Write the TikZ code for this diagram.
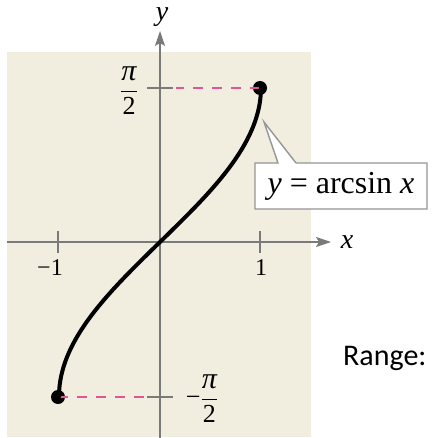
\documentclass[tikz,border=0pt]{standalone}
\usepackage{amsmath}
\usepackage{fontspec}
\setmainfont{Liberation Serif}
\newfontfamily\calib{Carlito}
\usetikzlibrary{arrows.meta}
\definecolor{bgbeige}{HTML}{F1EEE0}
\definecolor{axisgray}{HTML}{7A7A7A}
\definecolor{dashpink}{HTML}{E0559A}
\newcommand{\halfpi}{$\genfrac{}{}{1.6pt}{0}{\mbox{\fontsize{30}{30}\selectfont\itshape π}}{\mbox{2}}$}
\tikzset{
  axis/.style={draw=axisgray, line width=1.3pt},
  tickmark/.style={draw=axisgray, line width=1.1pt},
  guide/.style={draw=dashpink, line width=1.3pt, dash pattern=on 10pt off 9pt},
  curve/.style={draw=black, line width=4pt},
  enddot/.style={circle, fill=black, inner sep=0pt, minimum size=14pt},
  lbl/.style={inner sep=0pt, font=\fontsize{24}{26}\selectfont},
  fraclbl/.style={inner sep=0pt, font=\fontsize{26}{28}\selectfont},
  axlbl/.style={inner sep=0pt, font=\fontsize{28}{30}\selectfont\itshape},
  callout/.style={draw=axisgray!80, line width=1.4pt, fill=white},
}
\begin{document}
\begin{tikzpicture}[x=1pt,y=-1pt]
\useasboundingbox (0,0) rectangle (433,438);
% background panel
\fill[bgbeige] (7,52) rectangle (311,437);
% axes
\coordinate (xs) at (7,242);
\coordinate (xe) at (331,242);
\coordinate (ys) at (160,438);
\coordinate (ye) at (160,31);
\draw[axis,-{Stealth[length=15pt,width=10pt,inset=3pt]}] (xs) -- (xe);
\draw[axis,-{Stealth[length=15pt,width=10pt,inset=3pt]}] (ys) -- (ye);
\node[axlbl] (xlab) at (347,242) {x};
\node[axlbl] (ylab) at (162,17) {y};
% ticks
\draw[tickmark] (58,231) -- (58,253);
\draw[tickmark] (260,231) -- (260,253);
\draw[tickmark] (147,88) -- (173,88);
\draw[tickmark] (147,397) -- (173,397);
\node[lbl] (tm1) at (50,268) {−1};
\node[lbl] (tp1) at (261,268) {1};
\node[fraclbl] (lpi) at (129,91) {\halfpi};
\node[fraclbl] (lmpi) at (202,399) {−\halfpi};
% end points
\node[enddot] (top) at (260,88) {};
\node[enddot] (bot) at (58,397) {};
% dashed guides
\draw[guide] (top.center) -- (176,88);
\draw[guide] (bot.center) -- (145,397);
% curve y = arcsin x
\draw[curve, line cap=round] plot[domain=-90:90, samples=120, variable=\t]
  ({160+101*sin(\t)}, {242-154.5*\t/90});
% callout
\coordinate (tip) at (264,122);
\path[callout] (255,163) -- (278,163) -- (tip) -- (296,163) -- (427,163)
  -- (427,209) -- (255,209) -- cycle;
\node[inner sep=0pt, font=\fontsize{32}{34}\selectfont] (lab) at (341,186)
  {\textit{y} = arcsin \textit{x}};
% range text
\node[inner sep=0pt, anchor=west, font=\calib\fontsize{30}{32}\selectfont] (range) at (343,358) {Range:};
\end{tikzpicture}
\end{document}
